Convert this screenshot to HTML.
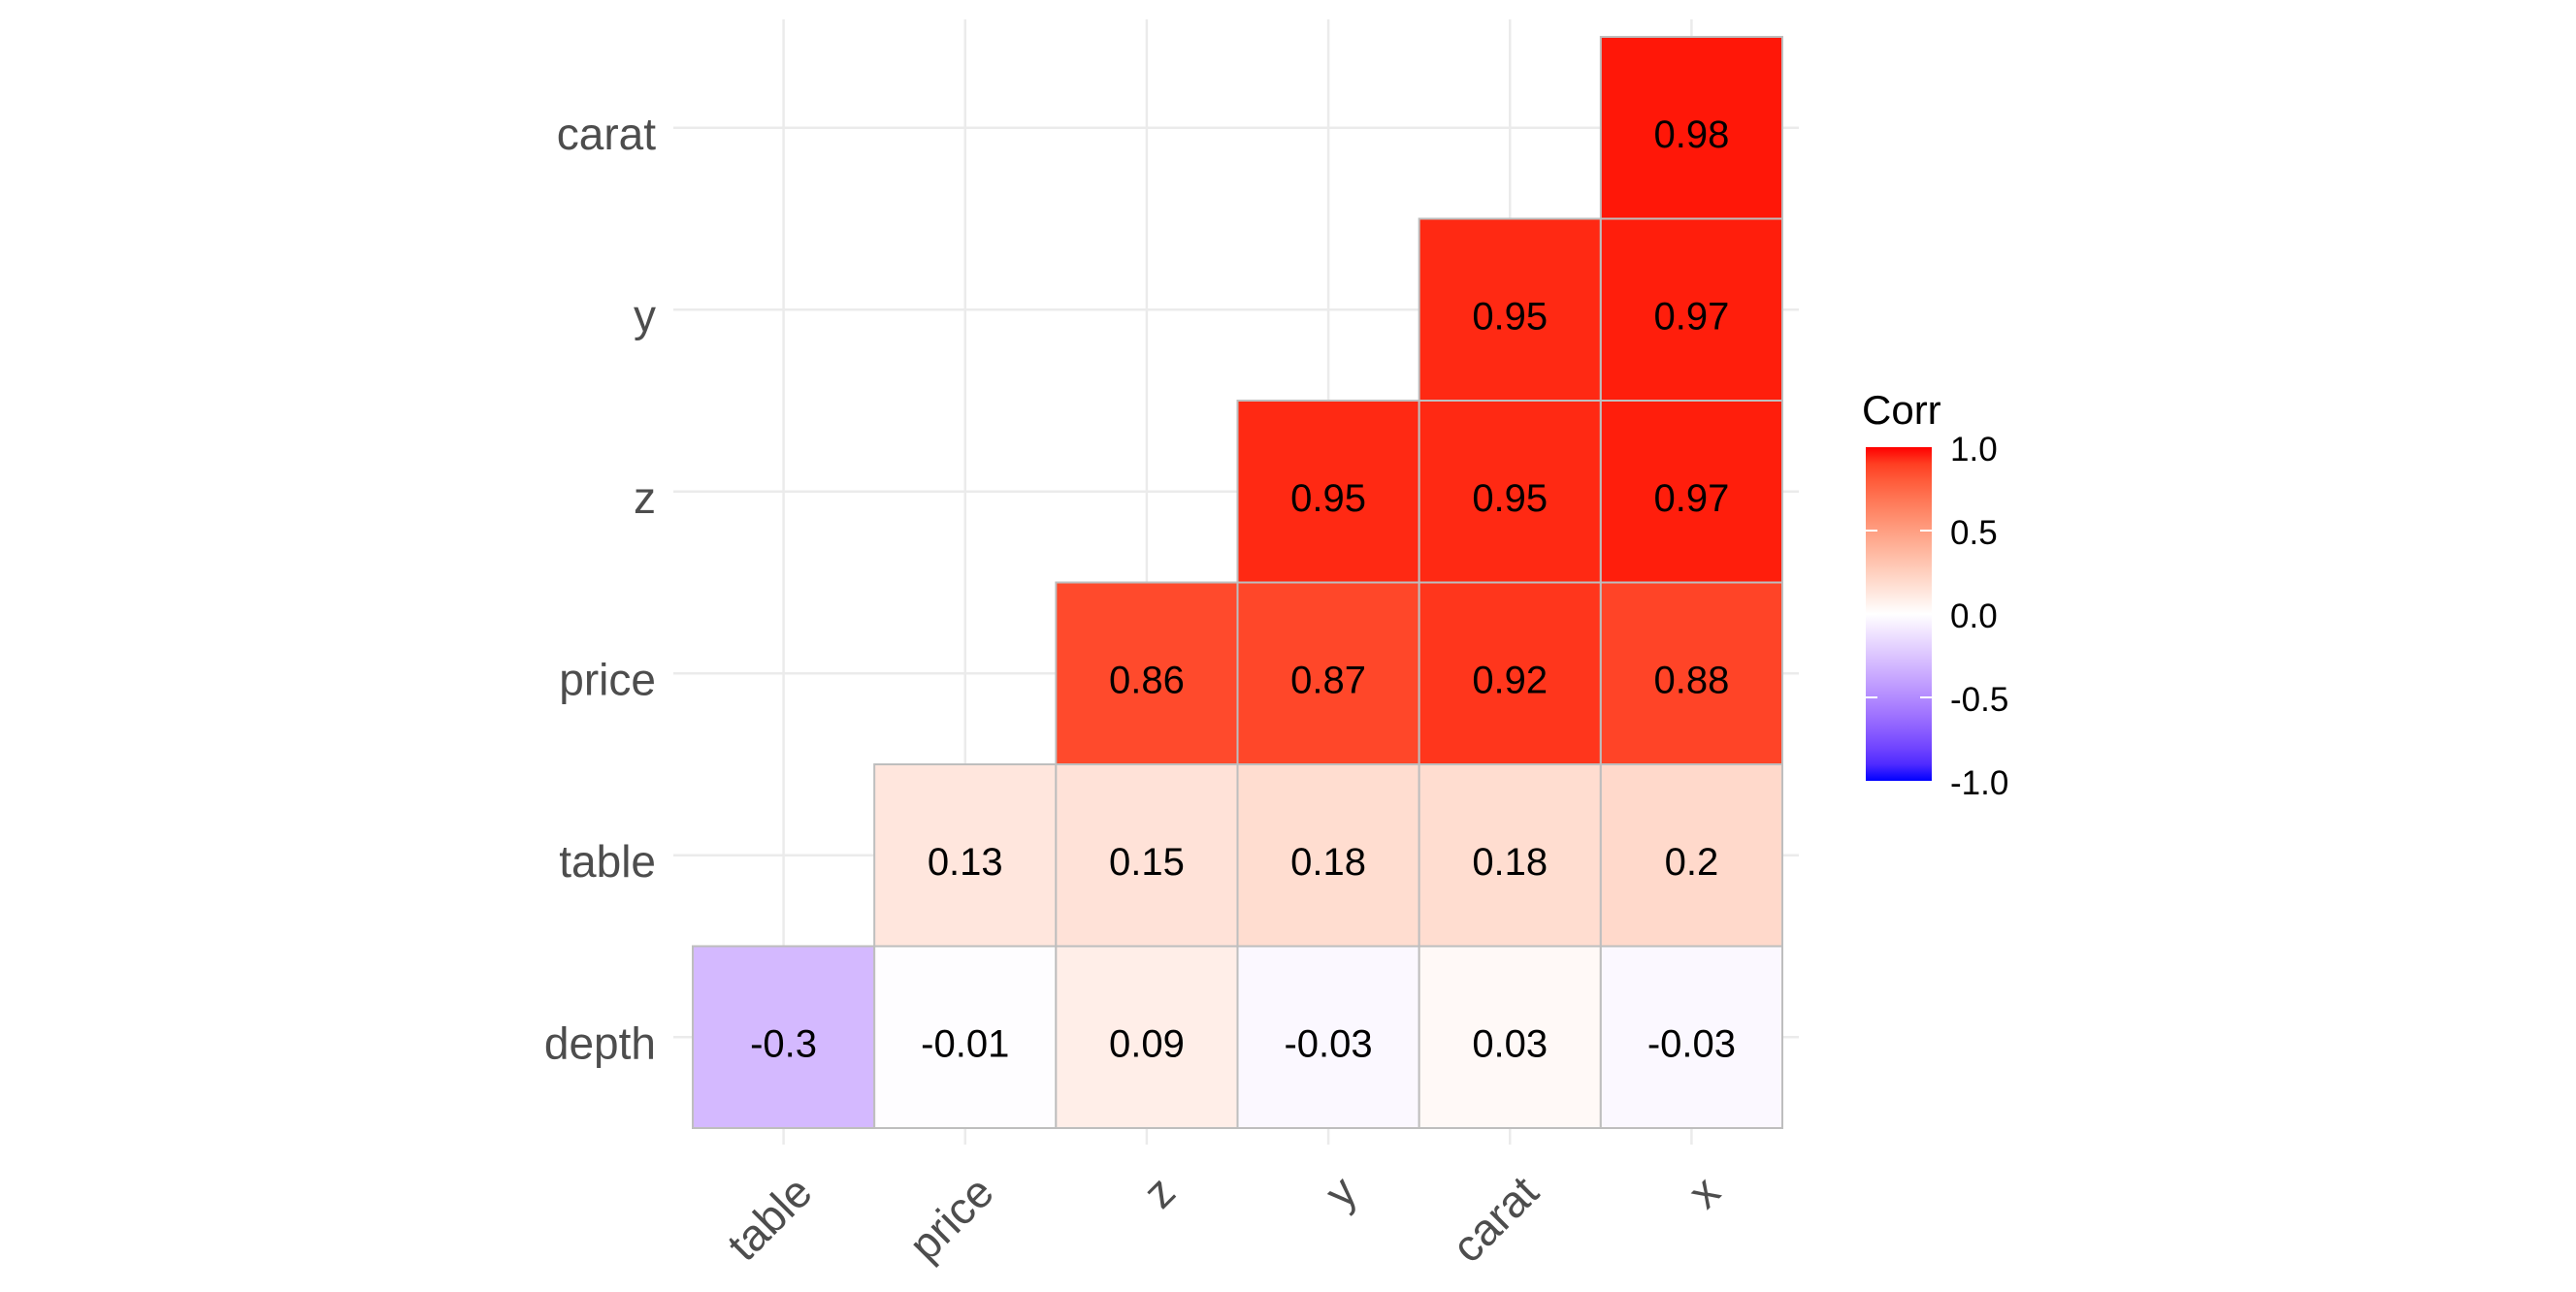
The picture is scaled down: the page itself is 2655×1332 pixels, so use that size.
<!DOCTYPE html>
<html><head><meta charset="utf-8"><style>
html,body{margin:0;padding:0;background:#fff;}
svg{display:block;font-family:"Liberation Sans",Arial,sans-serif;}
</style></head><body>
<svg id="chart" width="2655" height="1332"></svg>
<script>
const xCats=["table","price","z","y","carat","x"];
const yCats=["depth","table","price","z","y","carat"];
const rowDepth=[-0.3,-0.01,0.09,-0.03,0.03,-0.03];
const rowTable=[null,0.13,0.15,0.18,0.18,0.2];
const rowPrice=[null,null,0.86,0.87,0.92,0.88];
const rowZ=[null,null,null,0.95,0.95,0.97];
const rowY=[null,null,null,null,0.95,0.97];
const rowCarat=[null,null,null,null,null,0.98];
const legendTicks=[1.0,0.5,0.0,-0.5,-1.0];
const legendTickLabels=["1.0","0.5","0.0","-0.5","-1.0"];

const rows=[rowDepth,rowTable,rowPrice,rowZ,rowY,rowCarat];
const NS="http://www.w3.org/2000/svg";
const svg=document.getElementById('chart');
function mk(t,a,p){const e=document.createElementNS(NS,t);for(const k in a)e.setAttribute(k,a[k]);(p||svg).appendChild(e);return e;}
const L=714,R=1837,T=38,B=1163;
const cw=(R-L)/xCats.length, ch=(B-T)/yCats.length;
const xs=i=>L+cw*(i+0.5);
const ys=j=>B-ch*(j+0.5);
function s2l(c){c/=255;return c<=0.04045?c/12.92:Math.pow((c+0.055)/1.055,2.4);}
function l2s(c){c=c<=0.0031308?12.92*c:1.055*Math.pow(c,1/2.4)-0.055;return Math.max(0,Math.min(255,Math.round(c*255)));}
function toLab(r,g,b){r=s2l(r);g=s2l(g);b=s2l(b);
let X=(0.4124*r+0.3576*g+0.1805*b)/0.95047,Y=0.2126*r+0.7152*g+0.0722*b,Z=(0.0193*r+0.1192*g+0.9505*b)/1.08883;
const f=t=>t>0.008856?Math.cbrt(t):7.787*t+16/116;X=f(X);Y=f(Y);Z=f(Z);return[116*Y-16,500*(X-Y),200*(Y-Z)];}
function fromLab(l,a,b){let Y=(l+16)/116,X=a/500+Y,Z=Y-b/200;const fi=t=>t*t*t>0.008856?t*t*t:(t-16/116)/7.787;
X=fi(X)*0.95047;Y=fi(Y);Z=fi(Z)*1.08883;
const r=3.2406*X-1.5372*Y-0.4986*Z,g=-0.9689*X+1.8758*Y+0.0415*Z,bb=0.0557*X-0.2040*Y+1.0570*Z;
return `rgb(${l2s(r)},${l2s(g)},${l2s(bb)})`;}
const labW=toLab(255,255,255),labR=toLab(255,0,0),labB=toLab(0,0,255);
function col(v){const t=Math.min(1,Math.abs(v));const e=v>=0?labR:labB;return fromLab(labW[0]+(e[0]-labW[0])*t,labW[1]+(e[1]-labW[1])*t,labW[2]+(e[2]-labW[2])*t);}
const grid=mk('g',{});


xCats.forEach((c,i)=>{mk('line',{x1:xs(i),x2:xs(i),y1:20,y2:B+17,stroke:'#ebebeb','stroke-width':2.5},grid);});
yCats.forEach((c,j)=>{mk('line',{x1:694,x2:1854,y1:ys(j),y2:ys(j),stroke:'#ebebeb','stroke-width':2.5},grid);});
rows.forEach((row,j)=>{row.forEach((v,i)=>{if(v===null)return;
const g=mk('g',{});


mk('rect',{x:L+cw*i,y:B-ch*(j+1),width:cw,height:ch,fill:col(v),stroke:'#bebebe','stroke-width':2},g);
const t=mk('text',{x:xs(i),y:ys(j)+20,'text-anchor':'middle','font-size':40,fill:'#000'},g);t.textContent=String(v);
});});
yCats.forEach((c,j)=>{const t=mk('text',{x:676,y:ys(j)+22,'text-anchor':'end','font-size':46,fill:'#4d4d4d'});t.textContent=c;

});
xCats.forEach((c,i)=>{const x=xs(i)+32,y=1232;const t=mk('text',{x:x,y:y,'text-anchor':'end','font-size':46,fill:'#4d4d4d',transform:`rotate(-45 ${x} ${y})`});t.textContent=c;

});
const lg=mk('g',{});


const defs=mk('defs',{});const gr=mk('linearGradient',{id:'lgr',x1:0,y1:0,x2:0,y2:1},defs);
for(let k=0;k<=20;k++){const v=1-k/10;mk('stop',{offset:(k/20),'stop-color':col(v)},gr);}
const lt=mk('text',{x:1919,y:437,'font-size':42,fill:'#000'},lg);lt.textContent='Corr';
const bx=1923,bw=68,bt=461,bb=805;
mk('rect',{x:bx,y:bt,width:bw,height:bb-bt,fill:'url(#lgr)'},lg);
const lys=v=>bt+(1-v)/2*(bb-bt);
legendTicks.forEach((v,k)=>{const y=lys(v);
if(Math.abs(v)<1){mk('line',{x1:bx,x2:bx+12,y1:y,y2:y,stroke:'#fff','stroke-width':2},lg);mk('line',{x1:bx+bw-12,x2:bx+bw,y1:y,y2:y,stroke:'#fff','stroke-width':2},lg);}
const t=mk('text',{x:2010,y:y+14,'font-size':35,fill:'#000'},lg);t.textContent=legendTickLabels[k];

});
</script>
</body></html>
